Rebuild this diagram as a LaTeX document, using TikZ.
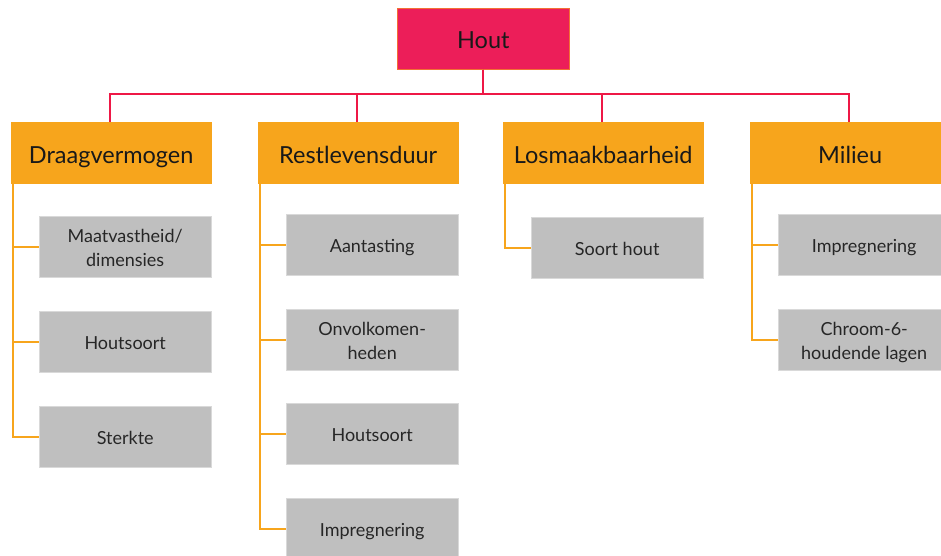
\documentclass[tikz,border=0pt]{standalone}
\usepackage{fontspec}
\setmainfont{Lato}
\definecolor{houtc}{HTML}{EC1E59}
\definecolor{orangec}{HTML}{F7A51C}
\definecolor{grayc}{HTML}{BFBFBF}
\definecolor{redline}{HTML}{EE1846}
\tikzset{
  rootbox/.style={draw=orangec!60!houtc, line width=0.6pt, fill=houtc, minimum width=172pt, minimum height=61pt, anchor=north west, inner sep=0pt, text=black!90, text height=21pt, text depth=1pt, font=\fontsize{23.5}{26}\selectfont},
  headbox/.style={draw=orangec, line width=0.4pt, fill=orangec, minimum width=200pt, minimum height=61pt, anchor=north west, inner sep=0pt, text=black!90, text height=24pt, text depth=2pt, font=\fontsize{23.5}{26}\selectfont},
  subbox/.style={draw=grayc!60!white, line width=0.4pt, fill=grayc, minimum width=172pt, minimum height=61pt, anchor=north west, inner sep=0pt, align=center, text=black!85, text height=18pt, text depth=2pt, font=\fontsize{18}{24}\selectfont},
  subtwo/.style={subbox, text height=40pt, text depth=0pt},
  rline/.style={draw=redline, line width=1.8pt},
  oline/.style={draw=orangec, line width=2pt},
}
\begin{document}
\begin{tikzpicture}[x=1pt,y=-1pt]
\useasboundingbox (0,0) rectangle (941,555);
\clip (0,0) rectangle (941,555);
\node[rootbox] (hout) at (397,8) {Hout};
\node[headbox] (dv) at (11,122) {Draagvermogen};
\node[headbox] (rl) at (258,122) {Restlevensduur};
\node[headbox] (lm) at (503,122) {Losmaakbaarheid};
\node[headbox] (mi) at (750,122) {Milieu};
% grey boxes
\node[subtwo] (dv1) at (39,216) {Maatvastheid/\\dimensies};
\node[subbox] (dv2) at (39,311) {Houtsoort};
\node[subbox] (dv3) at (39,406) {Sterkte};
\node[subbox] (rl1) at (286,214) {Aantasting};
\node[subtwo] (rl2) at (286,309) {Onvolkomen-\\heden};
\node[subbox] (rl3) at (286,403) {Houtsoort};
\node[subbox] (rl4) at (286,498) {Impregnering};
\node[subbox] (lm1) at (531,217) {Soort hout};
\node[subbox] (mi1) at (778,214) {Impregnering};
\node[subtwo] (mi2) at (778,309) {Chroom-6-\\houdende lagen};
% red connectors
\foreach \c in {dv,rl,lm,mi}{
  \draw[rline] (hout.south) -- ++(0,24) -| ([xshift=-1pt]\c.north);
}
% orange connectors
\foreach \p/\k in {dv/dv1,dv/dv2,dv/dv3,rl/rl1,rl/rl2,rl/rl3,rl/rl4,lm/lm1,mi/mi1,mi/mi2}{
  \draw[oline] ([xshift=2pt]\p.south west) |- (\k.west);
}
\end{tikzpicture}
\end{document}
